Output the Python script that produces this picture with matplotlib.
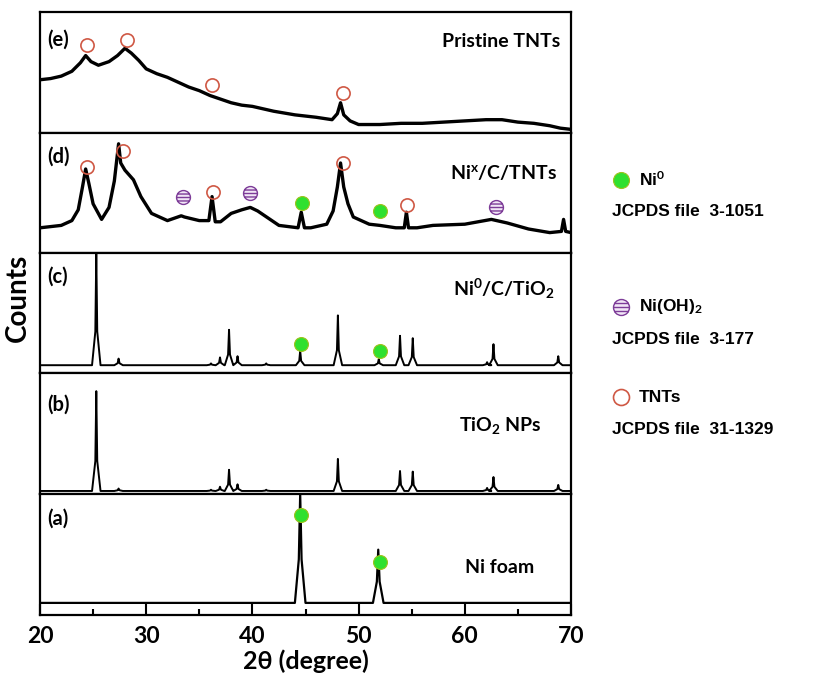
import matplotlib
matplotlib.use("Agg")
import matplotlib.pyplot as plt
from matplotlib.path import Path
from matplotlib.ticker import MultipleLocator

plt.rcParams['font.family'] = ['Lato', 'DejaVu Sans']
plt.rcParams['font.weight'] = 'bold'
plt.rcParams['axes.labelweight'] = 'bold'
plt.rcParams['mathtext.fontset'] = 'custom'
plt.rcParams['mathtext.rm'] = 'Lato:bold'
plt.rcParams['mathtext.bf'] = 'Lato:bold'
plt.rcParams['mathtext.default'] = 'bf'

# (e) pristine TNTs, broad pattern read point by point (2theta, relative counts)
e_x = [20, 21, 22, 23, 23.8, 24.3, 24.8, 25.5, 26.5, 27.3, 28.0, 28.6, 29.3, 30, 31, 32, 33, 34, 35,
       36, 37, 38, 39, 40, 42, 44, 46, 47.5, 48.0, 48.3, 48.6, 49.2, 50, 52, 54, 56, 58, 60, 62,
       63.5, 65, 66.5, 68, 69, 70]
e_y = [44, 45, 47, 51, 58, 64, 59, 56, 59, 64, 70, 66, 60, 53, 49, 46, 42, 38, 35,
       31, 28, 25, 23, 22, 18, 15, 13, 11, 16, 25, 15, 10, 7, 7, 8, 8, 9, 10, 11,
       11, 9, 8, 6, 4, 3]

# (d) Ni^x/C/TNTs
d_x = [20, 21, 22, 23, 23.6, 24.0, 24.3, 24.6, 25.0, 25.8, 26.5, 27.0, 27.4, 27.6, 28.0, 28.8, 29.5,
       30.5, 32, 33.3, 33.6, 35, 35.9, 36.2, 36.5, 37, 38, 39, 39.8, 40.5, 41.5, 42.5, 44.3, 44.6,
       44.9, 45.5, 47, 47.6, 48.0, 48.3, 48.6, 49.0, 49.5, 51, 52, 53.5, 54.3, 54.5, 54.7, 55.5,
       57, 60, 62.5, 64, 66, 68, 69.1, 69.3, 69.5, 70]
d_y = [21, 22, 23, 27, 36, 55, 70, 58, 41, 28, 38, 60, 91, 75, 69, 61, 47,
       33, 27, 31, 30, 27, 27, 47, 26, 26, 33, 36, 38, 35, 29, 23, 21, 34,
       21, 21, 24, 35, 55, 75, 55, 41, 30, 24, 23, 21, 21, 34, 21, 21,
       23, 24, 28, 25, 20, 17, 18, 28, 18, 17]

# (c) Ni0/C/TiO2 reflections
c_pos = [25.3, 27.4, 36.1, 36.95, 37.8, 38.6, 41.3, 44.5, 48.05, 51.9, 53.9, 55.1, 62.1, 62.7, 68.8]
c_top = [100, 12, 8, 13, 36, 14, 8, 18.5, 48, 11.5, 31, 29, 9, 24, 14]
c_base = 6.5

# (b) TiO2 NPs reflections
b_pos = [25.3, 27.4, 36.1, 36.95, 37.8, 38.6, 41.3, 48.05, 53.9, 55.1, 62.1, 62.7, 68.8]
b_top = [85, 4.5, 3.5, 6, 20, 8, 3.5, 29, 19, 18.5, 5, 14, 7.5]
b_base = 2.5

# (a) Ni foam reflections
a_pos = [44.5, 51.85]
a_top = [100, 54]
a_base = 10

# phase markers per panel
e_tnt_x, e_tnt_y = [24.4, 28.2, 36.2, 48.5], [73, 77, 40, 33]
d_tnt_x, d_tnt_y = [24.4, 27.8, 36.3, 48.5, 54.6], [72, 85, 51, 75, 40]
d_oh_x, d_oh_y = [33.5, 39.8, 62.9], [47, 50, 38]
d_ni_x, d_ni_y = [44.7, 52.0], [42, 35]
c_ni_x, c_ni_y = [44.6, 52.0], [24.5, 18.5]
a_ni_x, a_ni_y = [44.6, 52.0], [82.5, 44]

panel_tags = ['(e)', '(d)', '(c)', '(b)', '(a)']
sample_names = ['Pristine TNTs', 'Ni$^{x}$/C/TNTs', 'Ni$^{0}$/C/TiO$_{2}$', 'TiO$_{2}$ NPs', 'Ni foam']
legend_names = ['Ni$^{0}$', 'Ni(OH)$_{2}$', 'TNTs']
legend_files = ['JCPDS file  3-1051', 'JCPDS file  3-177', 'JCPDS file  31-1329']

GREEN = '#2fe02f'
GREEN_EDGE = '#9cc21c'
PURPLE = '#7d3c98'
LAVENDER = '#f1e6f6'
RED = '#cf5844'


def stick_profile(pos, top, base, half=0.4, waist=0.09, frac=0.3):
    xs, ys = [20.0], [base]
    for p, h in zip(pos, top):
        mid = base + frac * (h - base)
        xs += [p - half, p - waist, p, p + waist, p + half]
        ys += [base, mid, h, mid, base]
    xs.append(70.0)
    ys.append(base)
    return xs, ys


# circle with horizontal bars for Ni(OH)2
bars = Path([(-0.87, -0.5), (0.87, -0.5), (-1, 0), (1, 0), (-0.87, 0.5), (0.87, 0.5)],
            [Path.MOVETO, Path.LINETO] * 3)
hatched_circle = Path.make_compound_path(Path.unit_circle(), bars)


def tnt(ax, x, y, ms=9.5):
    ax.plot(x, y, 'o', ms=ms, mfc='none', mec=RED, mew=1.2, ls='none', zorder=5)


def ni(ax, x, y, ms=10):
    ax.plot(x, y, 'o', ms=ms, mfc=GREEN, mec=GREEN_EDGE, mew=0.8, ls='none', zorder=5)


def niooh(ax, x, y, ms=10):
    ax.plot(x, y, marker=hatched_circle, ms=ms, mfc=LAVENDER, mec=PURPLE, mew=1.0, ls='none', zorder=5)


fig = plt.figure(figsize=(8.3, 6.81), dpi=100)
W, H = 830, 681
tops = [12, 133, 253, 373, 494]
bots = [133, 253, 373, 494, 615]
axes = []
for t, b in zip(tops, bots):
    ax = fig.add_axes([40 / W, 1 - b / H, 531 / W, (b - t) / H])
    ax.set_xlim(20, 70)
    ax.set_ylim(0, 100)
    ax.set_yticks([])
    for s in ax.spines.values():
        s.set_linewidth(1.6)
    ax.tick_params(axis='x', bottom=False, labelbottom=False)
    axes.append(ax)
ax_e, ax_d, ax_c, ax_b, ax_a = axes

ax_e.plot(e_x, e_y, color='black', lw=2.4)
ax_d.plot(d_x, d_y, color='black', lw=2.4)
x, y = stick_profile(c_pos, c_top, c_base)
ax_c.plot(x, y, color='black', lw=1.4)
x, y = stick_profile(b_pos, b_top, b_base)
ax_b.plot(x, y, color='black', lw=1.4)
x, y = stick_profile(a_pos, a_top, a_base, half=0.5, waist=0.13, frac=0.4)
ax_a.plot(x, y, color='black', lw=1.6)

tnt(ax_e, e_tnt_x, e_tnt_y)
tnt(ax_d, d_tnt_x, d_tnt_y)
niooh(ax_d, d_oh_x, d_oh_y)
ni(ax_d, d_ni_x, d_ni_y)
ni(ax_c, c_ni_x, c_ni_y)
ni(ax_a, a_ni_x, a_ni_y)

tag_y = [0.77, 0.80, 0.80, 0.74, 0.80]
name_xy = [(0.757, 0.76), (0.773, 0.67), (0.778, 0.70), (0.79, 0.57), (0.80, 0.39)]
for ax, tag, ty, name, (nx, ny) in zip(axes, panel_tags, tag_y, sample_names, name_xy):
    ax.text(0.013, ty, tag, transform=ax.transAxes, fontsize=14.5, va='center', ha='left')
    ax.text(nx, ny, name, transform=ax.transAxes, fontsize=14, va='center', ha='left')

ax_a.tick_params(axis='x', bottom=True, labelbottom=True, direction='in', length=8, width=1.5,
                 labelsize=16.5, pad=8)
ax_a.xaxis.set_major_locator(MultipleLocator(10))
ax_a.xaxis.set_minor_locator(MultipleLocator(5))
ax_a.tick_params(axis='x', which='minor', direction='in', length=4, width=1.5)
ax_a.set_xlabel('2θ (degree)', fontsize=18, labelpad=2)

fig.text(18 / W, 1 - 298 / H, 'Counts', rotation=90, fontsize=20, fontweight='bold',
         ha='center', va='center')

# phase legend to the right of the panels
leg_y = [180, 307, 397]
drawers = [ni, niooh, tnt]
lax = fig.add_axes([0, 0, 1, 1], facecolor='none')
lax.set_xlim(0, W)
lax.set_ylim(H, 0)
lax.axis('off')
for ly, name, fname, draw in zip(leg_y, legend_names, legend_files, drawers):
    draw(lax, [621], [ly], ms=11.5)
    lax.text(639, ly, name, fontsize=12.5, family=['Liberation Sans', 'DejaVu Sans'],
             va='center', ha='left')
    lax.text(612, ly + 32, fname, fontsize=12.5, family=['Liberation Sans', 'DejaVu Sans'],
             va='center', ha='left')

fig.savefig('out.png', dpi=100)
